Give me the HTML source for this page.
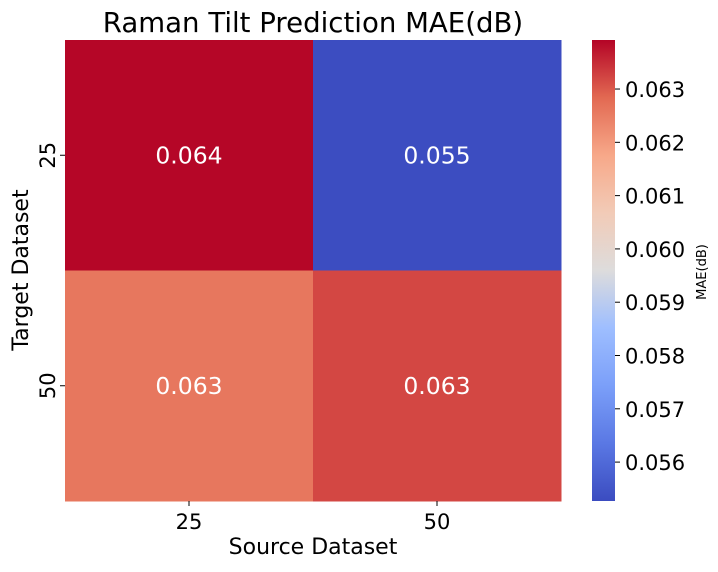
<!DOCTYPE html>
<html><head><meta charset="utf-8"><style>
body{margin:0;background:#fff;}
svg text{font-family:"DejaVu Sans","Liberation Sans",sans-serif;}
</style></head><body>
<svg id="chart" width="718" height="567" xmlns="http://www.w3.org/2000/svg">
<defs><linearGradient id="cw" x1="0" y1="1" x2="0" y2="0"></linearGradient></defs>
<text x="313" y="32" font-size="27.6" text-anchor="middle" fill="#000">Raman Tilt Prediction MAE(dB)</text>
<g id="cells"></g>
<g id="axes"></g>
<text x="313" y="554" font-size="22" text-anchor="middle">Source Dataset</text>
<text transform="translate(28,270) rotate(-90)" font-size="22" text-anchor="middle">Target Dataset</text>
<rect x="592" y="40" width="23" height="461" fill="url(#cw)"/>
<g id="cbticks"></g>
<text transform="translate(706,272) rotate(-90)" font-size="13" text-anchor="middle">MAE(dB)</text>
</svg>
<script>
const xCats=["25","50"];
const yCats=["25","50"];
const values=[[0.0639,0.0553],[0.0626,0.0632]];
const labels=[["0.064","0.055"],["0.063","0.063"]];
const cbTicks=[0.056,0.057,0.058,0.059,0.060,0.061,0.062,0.063];
const vmin=0.05527, vmax=0.06392;

const NS="http://www.w3.org/2000/svg";
const X0=65,X1=561,Y0=40,Y1=501;
const stops=[[0,[59,76,192]],[0.125,[90,120,228]],[0.25,[123,159,249]],[0.375,[158,190,255]],[0.5,[221,220,220]],[0.625,[242,203,183]],[0.75,[247,168,137]],[0.875,[226,105,82]],[1,[180,4,38]]];
function cmap(t){t=Math.max(0,Math.min(1,t));for(let i=1;i<stops.length;i++){if(t<=stops[i][0]){const a=stops[i-1],b=stops[i];const f=(t-a[0])/(b[0]-a[0]);const c=a[1].map((v,k)=>Math.round(v+(b[1][k]-v)*f));return `rgb(${c})`;}}return 'rgb(180,4,38)';}
const grad=document.getElementById('cw');
stops.forEach(s=>{const st=document.createElementNS(NS,'stop');st.setAttribute('offset',s[0]);st.setAttribute('stop-color',`rgb(${s[1]})`);grad.appendChild(st);});
const cw=(X1-X0)/xCats.length, ch=(Y1-Y0)/yCats.length;
function xPos(i){return X0+cw*i;} function yPos(j){return Y0+ch*j;}
function cbY(v){return Y1-(v-vmin)/(vmax-vmin)*(Y1-Y0);}
const cells=document.getElementById('cells');
yCats.forEach((yc,j)=>xCats.forEach((xc,i)=>{
 const r=document.createElementNS(NS,'rect');
 
 
 r.setAttribute('x',xPos(i));r.setAttribute('y',yPos(j));r.setAttribute('width',cw+0.5);r.setAttribute('height',ch+0.5);
 r.setAttribute('fill',cmap((values[j][i]-vmin)/(vmax-vmin)));cells.appendChild(r);
 const t=document.createElementNS(NS,'text');
 
 
 t.setAttribute('x',xPos(i)+cw/2);t.setAttribute('y',yPos(j)+ch/2+8);t.setAttribute('font-size','23.5');t.setAttribute('fill','#fff');t.setAttribute('text-anchor','middle');
 t.textContent=labels[j][i];cells.appendChild(t);
}));
const axes=document.getElementById('axes');
xCats.forEach((c,i)=>{const x=xPos(i)+cw/2;
 const l=document.createElementNS(NS,'line');l.setAttribute('x1',x);l.setAttribute('x2',x);l.setAttribute('y1',Y1);l.setAttribute('y2',Y1+5);l.setAttribute('stroke','#000');axes.appendChild(l);
 const t=document.createElementNS(NS,'text');
 
 
 t.setAttribute('x',x);t.setAttribute('y',Y1+28);t.setAttribute('font-size','21');t.setAttribute('text-anchor','middle');t.textContent=c;axes.appendChild(t);});
yCats.forEach((c,j)=>{const y=yPos(j)+ch/2;
 const l=document.createElementNS(NS,'line');l.setAttribute('x1',X0-5);l.setAttribute('x2',X0);l.setAttribute('y1',y);l.setAttribute('y2',y);l.setAttribute('stroke','#000');axes.appendChild(l);
 const t=document.createElementNS(NS,'text');
 
 
 t.setAttribute('transform',`translate(${X0-10},${y}) rotate(-90)`);t.setAttribute('font-size','21');t.setAttribute('text-anchor','middle');t.textContent=c;axes.appendChild(t);});
const cbt=document.getElementById('cbticks');
cbTicks.forEach(v=>{const y=cbY(v);
 const l=document.createElementNS(NS,'line');l.setAttribute('x1',615);l.setAttribute('x2',620);l.setAttribute('y1',y);l.setAttribute('y2',y);l.setAttribute('stroke','#000');cbt.appendChild(l);
 const t=document.createElementNS(NS,'text');
 
 
 t.setAttribute('x',625);t.setAttribute('y',y+8);t.setAttribute('font-size','21');t.textContent=v.toFixed(3);cbt.appendChild(t);});
</script>
</body></html>
